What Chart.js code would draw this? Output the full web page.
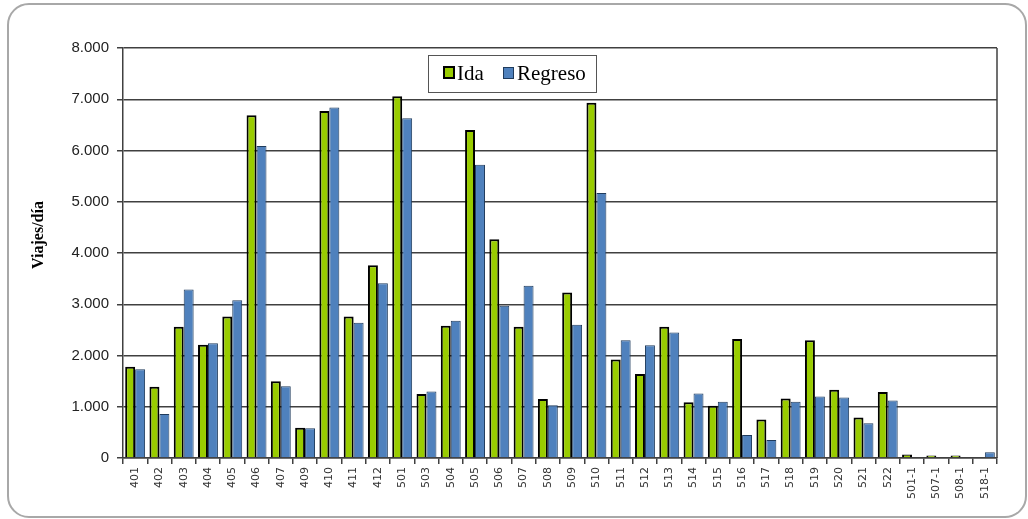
<!DOCTYPE html>
<html lang="es">
  <head>
    <meta charset="UTF-8" />
    <title>Viajes/día por ruta</title>
    <style>
      * {
        margin: 0;
        padding: 0;
        box-sizing: border-box;
      }
      body {
        width: 1028px;
        height: 519px;
        overflow: hidden;
        background-color: #ffffff;
      }
      .wrap {
        position: relative;
        width: 1028px;
        height: 519px;
      }
      .frame {
        position: absolute;
        left: 7px;
        top: 3px;
        width: 1020px;
        height: 515px;
        border: 2px solid #a8a8a8;
        border-radius: 22px;
        pointer-events: none;
      }
      canvas {
        position: absolute;
        left: 0;
        top: 0;
      }
    </style>
  </head>
  <body>
    <div class="wrap">
      <div class="frame"></div>
      <canvas id="chart" width="1028" height="519"></canvas>
    </div>

    <script src="https://cdn.jsdelivr.net/npm/chart.js"></script>
    <script>
      const rutas = ["401", "402", "403", "404", "405", "406", "407", "409", "410", "411", "412",
        "501", "503", "504", "505", "506", "507", "508", "509", "510", "511", "512", "513",
        "514", "515", "516", "517", "518", "519", "520", "521", "522",
        "501-1", "507-1", "508-1", "518-1"];
      const ida = [1780, 1390, 2560, 2210, 2760, 6690, 1500, 590, 6770, 2760, 3760,
        7060, 1250, 2580, 6400, 4270, 2560, 1150, 3230, 6930, 1920, 1640, 2560,
        1090, 1020, 2320, 750, 1160, 2300, 1330, 790, 1290,
        70, 50, 50, 0];
      const regreso = [1730, 860, 3290, 2240, 3080, 6090, 1400, 580, 6840, 2640, 3410,
        6630, 1300, 2680, 5720, 2970, 3360, 1030, 2600, 5170, 2300, 2200, 2450,
        1260, 1100, 450, 350, 1100, 1200, 1180, 680, 1120,
        0, 0, 0, 110];
      const yTicks = [0, 1000, 2000, 3000, 4000, 5000, 6000, 7000, 8000];

      const green = "#99cc00";
      const blue = "#4f81bd";
      const lineColor = "#404040";

      // caja de leyenda, titulo del eje y borde derecho del area
      const extras = {
        id: "extras",
        afterDatasetsDraw(chart) {
          const ctx = chart.ctx;
          const a = chart.chartArea;
          ctx.save();
          ctx.strokeStyle = lineColor;
          ctx.lineWidth = 1.5;
          ctx.beginPath();
          ctx.moveTo(a.right, a.top);
          ctx.lineTo(a.right, a.bottom);
          ctx.stroke();

          // leyenda
          ctx.fillStyle = "#ffffff";
          ctx.fillRect(428, 55, 168, 37);
          ctx.strokeStyle = "#555555";
          ctx.lineWidth = 1;
          ctx.strokeRect(428.5, 55.5, 168, 37);

          ctx.fillStyle = green;
          ctx.fillRect(444, 67, 10, 11);
          ctx.strokeStyle = "#000000";
          ctx.lineWidth = 2;
          ctx.strokeRect(444, 67, 10, 11);

          ctx.fillStyle = blue;
          ctx.fillRect(503, 67, 10, 11);
          ctx.strokeStyle = "#1f3b5c";
          ctx.lineWidth = 1;
          ctx.strokeRect(503.5, 67.5, 10, 11);

          ctx.fillStyle = "#000000";
          ctx.font = "21px 'Liberation Serif', serif";
          ctx.textBaseline = "alphabetic";
          ctx.textAlign = "left";
          ctx.fillText("Ida", 457, 80);
          ctx.fillText("Regreso", 517, 80);

          // titulo eje y
          ctx.translate(39, 235);
          ctx.rotate(-Math.PI / 2);
          ctx.font = "bold 16px 'Liberation Serif', serif";
          ctx.textAlign = "center";
          ctx.textBaseline = "middle";
          ctx.fillText("Viajes/día", 0, 0);
          ctx.restore();
        },
      };

      const chart = new Chart(document.getElementById("chart"), {
        type: "bar",
        data: {
          labels: rutas,
          datasets: [
            {
              label: "Ida",
              data: ida,
              backgroundColor: green,
              borderColor: "#000000",
              borderWidth: 2,
              categoryPercentage: 0.82,
              barPercentage: 1.0,
            },
            {
              label: "Regreso",
              data: regreso,
              backgroundColor: blue,
              borderColor: "#1f3b5c",
              borderWidth: 1,
              categoryPercentage: 0.82,
              barPercentage: 1.0,
            },
          ],
        },
        options: {
          responsive: false,
          animation: false,
          layout: {
            padding: { top: 48, right: 31, left: 0, bottom: 0 },
          },
          plugins: {
            legend: { display: false },
            tooltip: { enabled: false },
          },
          scales: {
            x: {
              afterFit: (s) => { s.height = 61; },
              grid: {
                offset: true,
                drawOnChartArea: false,
                drawTicks: true,
                tickLength: 6,
                color: lineColor,
                lineWidth: 1.5,
              },
              border: { color: lineColor, width: 1.5 },
              ticks: {
                autoSkip: false,
                minRotation: 90,
                maxRotation: 90,
                padding: 3,
                color: "#333333",
                font: { family: "'DejaVu Sans', sans-serif", size: 11 },
              },
            },
            y: {
              min: 0,
              max: 8000,
              afterFit: (s) => { s.width = 123; },
              afterBuildTicks: (s) => { s.ticks = yTicks.map((v) => ({ value: v })); },
              grid: {
                color: lineColor,
                lineWidth: 1.5,
                tickLength: 6,
              },
              border: { color: lineColor, width: 1.5 },
              ticks: {
                padding: 8,
                color: "#222222",
                font: { family: "'Liberation Sans', sans-serif", size: 15 },
                callback: (v) => v.toString().replace(/\B(?=(\d{3})+(?!\d))/g, "."),
              },
            },
          },
        },
        plugins: [extras],
      });
    </script>
  </body>
</html>
